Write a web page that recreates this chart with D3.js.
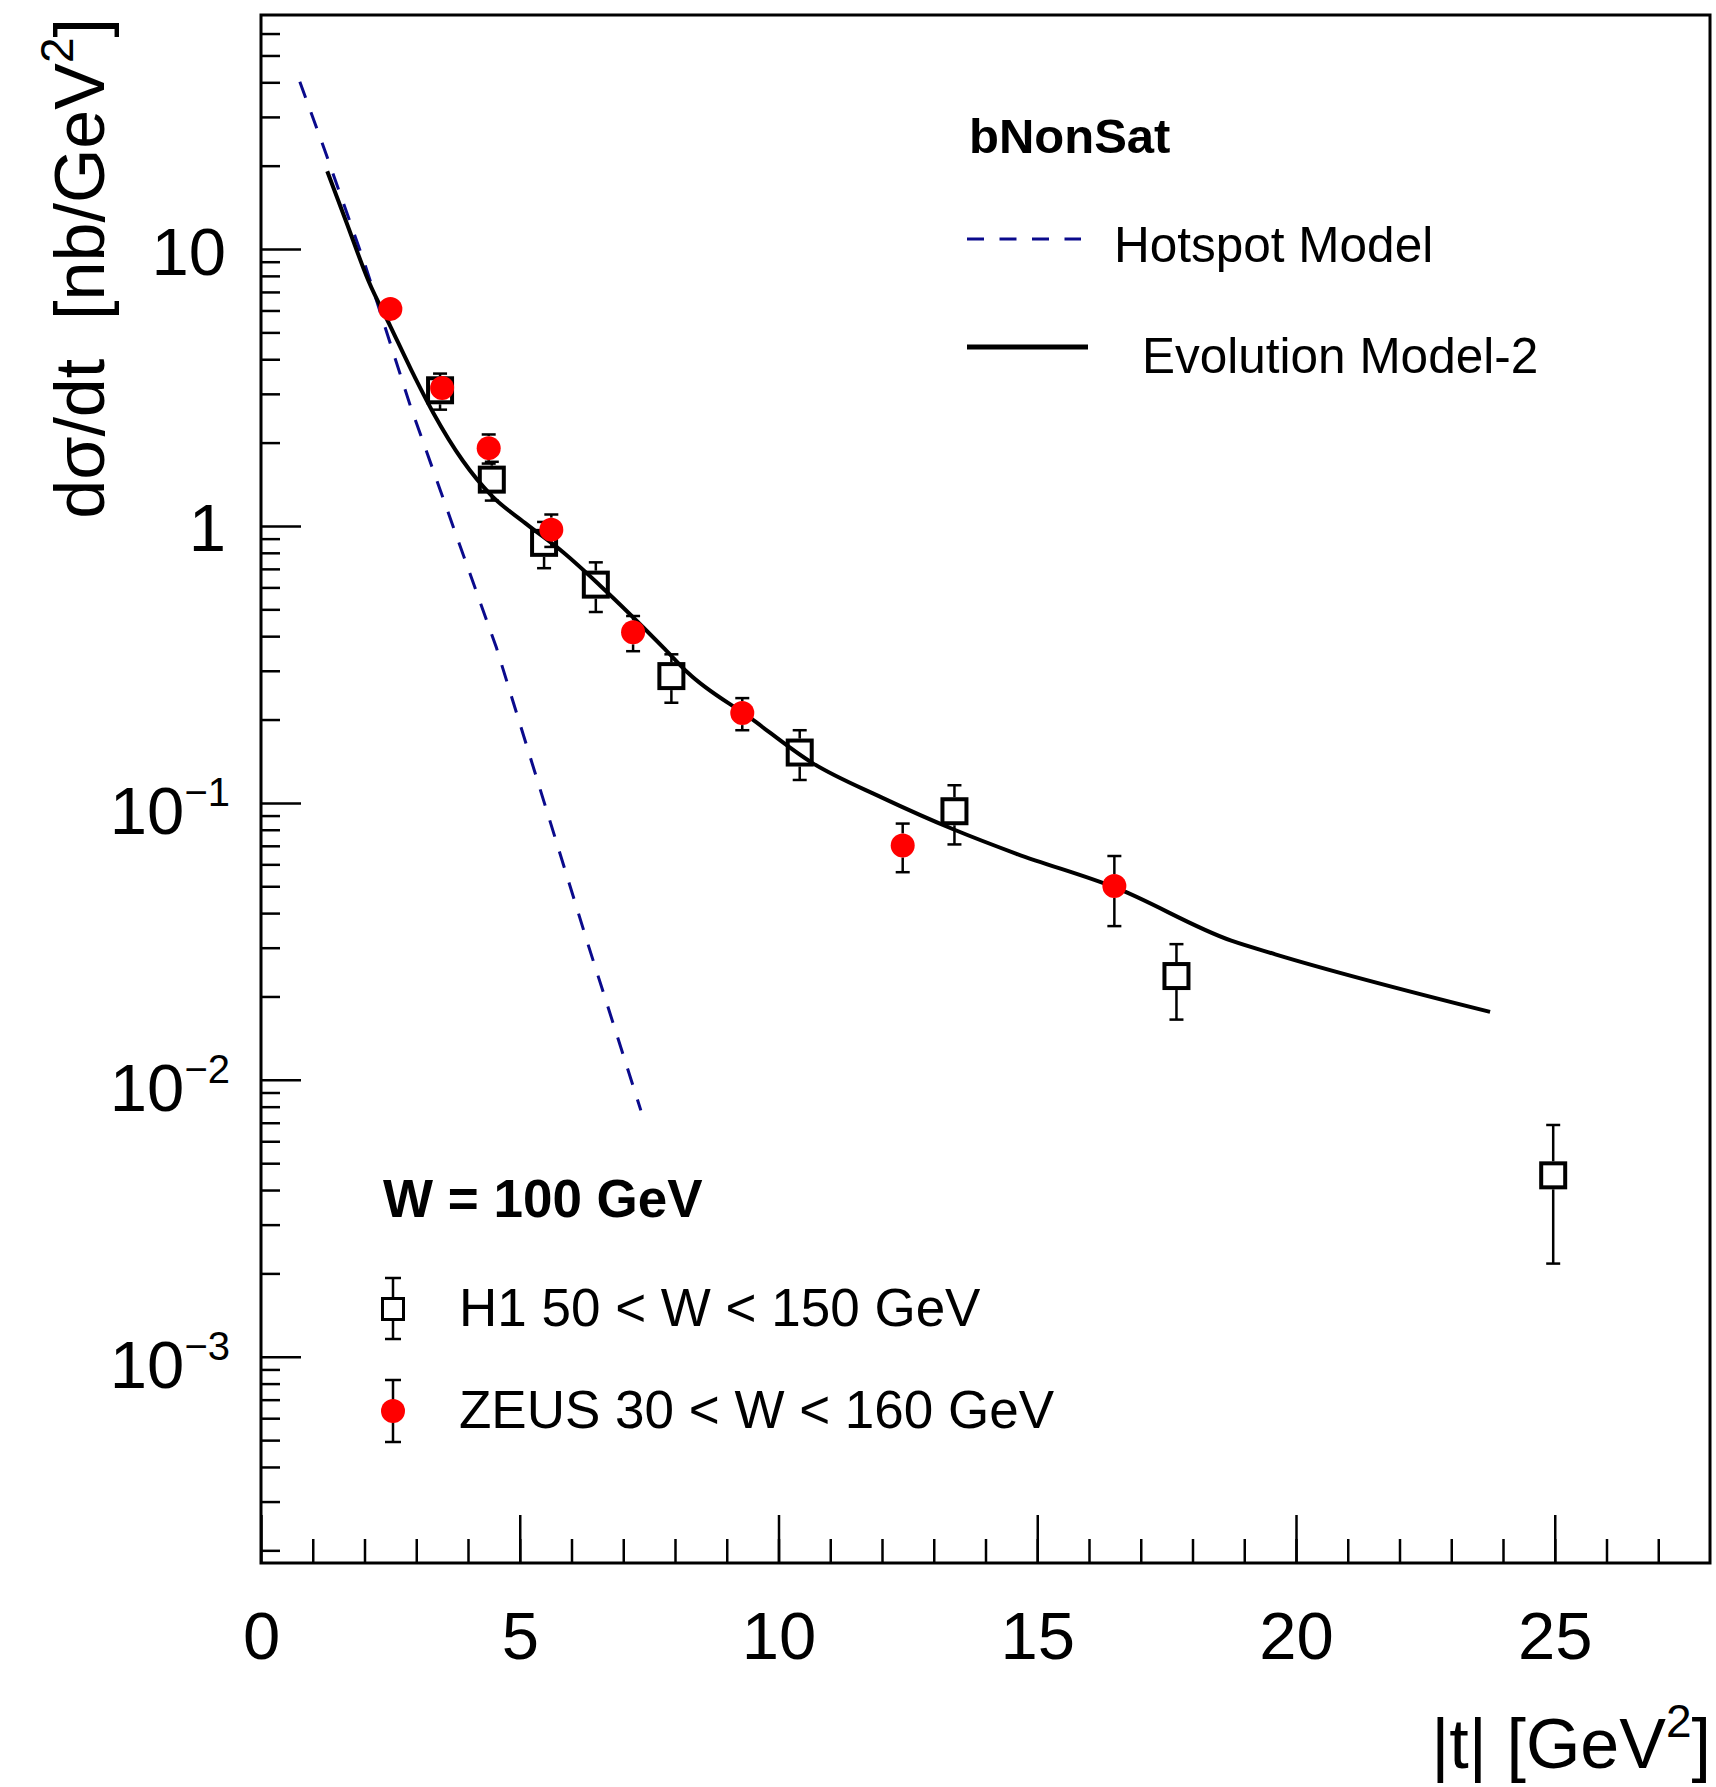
<!DOCTYPE html>
<html>
<head>
<meta charset="utf-8">
<script src="https://cdn.jsdelivr.net/npm/d3@7"></script>
<style>
body { margin: 0; background: #fff; }
text { font-family: "Liberation Sans", Arial, Helvetica, sans-serif; fill: #000; }
</style>
</head>
<body>
<svg id="chart" width="1716" height="1787"></svg>
<script>
// H1 50 < W < 150 GeV
var h1T   = [3.46, 4.46, 5.47, 6.47, 7.93, 10.41, 13.40, 17.69, 24.97];
var h1Val = [3.09, 1.47, 0.869, 0.614, 0.287, 0.152, 0.0933, 0.0237, 0.00452];
var h1Err = [0.46, 0.235, 0.165, 0.125, 0.057, 0.031, 0.0225, 0.0072, 0.00235];

// ZEUS 30 < W < 160 GeV
var zeusT   = [2.50, 3.50, 4.40, 5.61, 7.19, 9.30, 12.40, 16.49];
var zeusVal = [6.08, 3.15, 1.91, 0.97, 0.413, 0.211, 0.0702, 0.0501];
var zeusErr = [0.3, 0.2, 0.23, 0.13, 0.06, 0.028, 0.014, 0.0142];

// Hotspot model (dashed)
var hotT   = [0.75, 1.23, 2.0, 2.89, 3.78, 4.55, 6.33, 7.34];
var hotVal = [40.2, 22.8, 8.9, 2.70, 0.918, 0.363, 0.0304, 0.00776];

// Evolution Model-2 (solid)
var evoT   = [1.28, 1.65, 2.08, 2.5, 2.9, 3.33, 3.9, 4.45, 5.1, 5.85, 6.55, 7.8, 8.25, 9.45, 10.65, 12.0, 13.4, 14.6, 16.5, 18.75, 19.6, 23.75];
var evoVal = [19.1, 12.5, 7.65, 5.26, 3.67, 2.56, 1.72, 1.29, 1.026, 0.80, 0.61, 0.36, 0.295, 0.203, 0.1395, 0.1045, 0.080, 0.0655, 0.0495, 0.0318, 0.0284, 0.0176];

// tick labels
var xTickVals = [0, 5, 10, 15, 20, 25];
var yTickVals = [1e-3, 1e-2, 1e-1, 1, 10];
var yTickBase = ["10", "10", "10", "1", "10"];
var yTickExp  = ["\u22123", "\u22122", "\u22121", "", ""];

var navy = "#0a0a8c";
var svg = d3.select("#chart");

// frame edges ("top" would clash with window.top)
var padL = 261, padR = 1710, padT = 15, padB = 1563;
var x = d3.scaleLinear().domain([0, 28]).range([padL, padR]);
var y = d3.scaleLog().domain([1.8e-4, 70]).range([padB, padT]);

// ---- axes (ticks point inward like ROOT)
var xMinor = svg.append("g").attr("transform", "translate(0," + padB + ")")
    .call(d3.axisBottom(x).tickValues(d3.range(1, 28)).tickSize(-24).tickFormat(""));
var xMajor = svg.append("g").attr("transform", "translate(0," + padB + ")")
    .call(d3.axisBottom(x).tickValues(xTickVals).tickSize(-48).tickPadding(48).tickFormat(d3.format("d")));

var yMinorVals = [];
for (var k = -4; k <= 1; k++) {
    for (var m = 2; m <= 9; m++) {
        var v = m * Math.pow(10, k);
        if (v > 1.8e-4 && v < 70) yMinorVals.push(v);
    }
}
var yMinor = svg.append("g").attr("transform", "translate(" + padL + ",0)")
    .call(d3.axisLeft(y).tickValues(yMinorVals).tickSize(-19).tickFormat(""));
var yMajor = svg.append("g").attr("transform", "translate(" + padL + ",0)")
    .call(d3.axisLeft(y).tickValues(yTickVals).tickSize(-40).tickPadding(35).tickFormat(function() { return ""; }));

[xMinor, xMajor, yMinor, yMajor].forEach(function(g) {
    g.select(".domain").remove();
    g.selectAll(".tick line").attr("stroke", "#000").attr("stroke-width", 2.5);
});

xMajor.selectAll(".tick text")
    .style("font-size", "67px")
    .style("font-family", "Liberation Sans, Arial, sans-serif")
    .attr("fill", "#000");

yMajor.selectAll(".tick text").each(function(d, i) {
    var t = d3.select(this).attr("dy", null)
        .style("font-size", "67px")
        .style("font-family", "Liberation Sans, Arial, sans-serif")
        .attr("fill", "#000");
    if (yTickExp[i]) {
        t.attr("y", 31).attr("x", -31);
        t.append("tspan").text(yTickBase[i]);
        t.append("tspan").attr("dy", -28).style("font-size", "40px").text(yTickExp[i]);
    } else {
        t.attr("y", 25).text(yTickBase[i]);
    }
});

// frame
svg.append("rect")
    .attr("x", padL).attr("y", padT)
    .attr("width", padR - padL).attr("height", padB - padT)
    .attr("fill", "none").attr("stroke", "#000").attr("stroke-width", 3);

// axis titles
var xt = svg.append("text")
    .attr("x", 1711).attr("y", 1768)
    .attr("text-anchor", "end")
    .style("font-size", "70px");
xt.append("tspan").text("|t| [GeV");
xt.append("tspan").attr("dy", -31).style("font-size", "46px").text("2");
xt.append("tspan").attr("dy", 31).text("]");

var yt = svg.append("text")
    .attr("transform", "translate(104,18) rotate(-90)")
    .attr("text-anchor", "end")
    .style("font-size", "70px");
yt.append("tspan").text("d\u03c3/dt\u00a0\u00a0[nb/GeV");
yt.append("tspan").attr("dy", -31).style("font-size", "46px").text("2");
yt.append("tspan").attr("dy", 31).text("]");

// ---- model curves
var line = d3.line()
    .x(function(d) { return x(d[0]); })
    .y(function(d) { return y(d[1]); });

svg.append("path")
    .datum(d3.zip(hotT, hotVal))
    .attr("d", line)
    .attr("fill", "none")
    .attr("stroke", navy)
    .attr("stroke-width", 3)
    .attr("stroke-dasharray", "17,15.5");

svg.append("path")
    .datum(d3.zip(evoT, evoVal))
    .attr("d", line.curve(d3.curveMonotoneX))
    .attr("fill", "none")
    .attr("stroke", "#000")
    .attr("stroke-width", 4);

// ---- data points with error bars
function drawErrors(ts, vals, errs, gap) {
    var g = svg.append("g").attr("stroke", "#000").attr("stroke-width", 2.5);
    ts.forEach(function(t, i) {
        var cx = x(t), cy = y(vals[i]);
        var yHi = y(vals[i] + errs[i]), yLo = y(vals[i] - errs[i]);
        if (cy - yHi > gap) {
            g.append("line").attr("x1", cx).attr("x2", cx).attr("y1", yHi).attr("y2", cy - gap);
        }
        if (yLo - cy > gap) {
            g.append("line").attr("x1", cx).attr("x2", cx).attr("y1", cy + gap).attr("y2", yLo);
        }
        g.append("line").attr("x1", cx - 7).attr("x2", cx + 7).attr("y1", yHi).attr("y2", yHi);
        g.append("line").attr("x1", cx - 7).attr("x2", cx + 7).attr("y1", yLo).attr("y2", yLo);
    });
}

drawErrors(h1T, h1Val, h1Err, 14);
svg.append("g").selectAll("rect")
    .data(d3.zip(h1T, h1Val))
    .enter().append("rect")
    .attr("x", function(d) { return x(d[0]) - 12; })
    .attr("y", function(d) { return y(d[1]) - 12; })
    .attr("width", 24).attr("height", 24)
    .attr("fill", "none").attr("stroke", "#000").attr("stroke-width", 4);

drawErrors(zeusT, zeusVal, zeusErr, 12);
svg.append("g").selectAll("circle")
    .data(d3.zip(zeusT, zeusVal))
    .enter().append("circle")
    .attr("cx", function(d) { return x(d[0]); })
    .attr("cy", function(d) { return y(d[1]); })
    .attr("r", 12)
    .attr("fill", "#ff0000");

// ---- legend, top right
svg.append("text").attr("x", 969).attr("y", 153)
    .style("font-size", "49px").style("font-weight", "bold").text("bNonSat");
svg.append("line").attr("x1", 967).attr("x2", 1081).attr("y1", 239).attr("y2", 239)
    .attr("stroke", navy).attr("stroke-width", 3).attr("stroke-dasharray", "17,15.5");
svg.append("text").attr("x", 1114).attr("y", 262)
    .style("font-size", "49.5px").text("Hotspot Model");
svg.append("line").attr("x1", 967).attr("x2", 1088).attr("y1", 347).attr("y2", 347)
    .attr("stroke", "#000").attr("stroke-width", 5);
svg.append("text").attr("x", 1142).attr("y", 373)
    .style("font-size", "49.5px").text("Evolution Model-2");

// ---- legend, bottom left
svg.append("text").attr("x", 383).attr("y", 1217)
    .style("font-size", "53px").style("font-weight", "bold").text("W = 100 GeV");

var lg = svg.append("g").attr("stroke", "#000").attr("stroke-width", 2.5);
lg.append("line").attr("x1", 393).attr("x2", 393).attr("y1", 1278).attr("y2", 1297);
lg.append("line").attr("x1", 393).attr("x2", 393).attr("y1", 1321).attr("y2", 1339);
lg.append("line").attr("x1", 385).attr("x2", 401).attr("y1", 1278).attr("y2", 1278);
lg.append("line").attr("x1", 385).attr("x2", 401).attr("y1", 1339).attr("y2", 1339);
lg.append("rect").attr("x", 382.5).attr("y", 1298.5).attr("width", 21).attr("height", 21)
    .attr("fill", "none").attr("stroke-width", 3);
lg.append("line").attr("x1", 393).attr("x2", 393).attr("y1", 1380).attr("y2", 1442);
lg.append("line").attr("x1", 385).attr("x2", 401).attr("y1", 1380).attr("y2", 1380);
lg.append("line").attr("x1", 385).attr("x2", 401).attr("y1", 1442).attr("y2", 1442);
svg.append("circle").attr("cx", 393).attr("cy", 1411).attr("r", 12).attr("fill", "#ff0000");

svg.append("text").attr("x", 459).attr("y", 1326)
    .style("font-size", "53px").text("H1 50 < W < 150 GeV");
svg.append("text").attr("x", 459).attr("y", 1428)
    .style("font-size", "53px").text("ZEUS 30 < W < 160 GeV");
</script>
</body>
</html>
